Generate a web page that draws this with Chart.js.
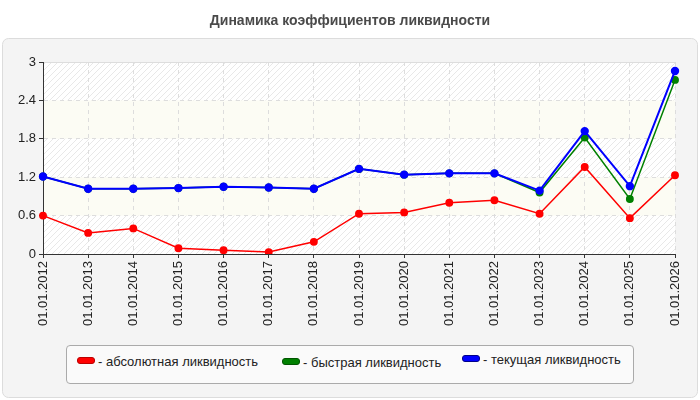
<!DOCTYPE html>
<html>
<head>
<meta charset="utf-8">
<script src="https://cdn.jsdelivr.net/npm/chart.js@4"></script>
<style>
    body { margin: 0; background: #fff; font-family: "Liberation Sans", Arial, sans-serif; }
    #wrap { position: relative; width: 700px; height: 400px; }
    #title {
        position: absolute; left: 0; top: 12px; width: 700px;
        text-align: center; font-weight: bold; font-size: 14px; color: #4a4a4a;
    }
    #legend {
        position: absolute; left: 66px; top: 345px; width: 566px; height: 37px;
        border: 1px solid #aaa; border-radius: 4px; background: #fafafa;
    }
    .item { position: absolute; font-size: 13px; color: #222; white-space: nowrap; }
    .swatch {
        display: inline-block; width: 16px; height: 5px; border-radius: 3px;
        margin-right: 3px; vertical-align: 2px;
    }
</style>
</head>
<body>
<div id="wrap">
    <canvas id="liquidityChart"></canvas>
    <div id="title">Динамика коэффициентов ликвидности</div>
    <div id="legend"></div>
</div>
<script>
const dates = ['01.01.2012', '01.01.2013', '01.01.2014', '01.01.2015', '01.01.2016',
    '01.01.2017', '01.01.2018', '01.01.2019', '01.01.2020', '01.01.2021',
    '01.01.2022', '01.01.2023', '01.01.2024', '01.01.2025', '01.01.2026'];
const absoluteRatio = [0.60, 0.33, 0.40, 0.09, 0.06, 0.03, 0.19, 0.63, 0.65, 0.80, 0.84, 0.63, 1.36, 0.56, 1.23];
const quickRatio = [1.21, 1.02, 1.02, 1.03, 1.05, 1.04, 1.02, 1.33, 1.24, 1.26, 1.26, 0.96, 1.82, 0.86, 2.72];
const currentRatio = [1.21, 1.02, 1.02, 1.03, 1.05, 1.04, 1.02, 1.33, 1.24, 1.26, 1.26, 0.99, 1.92, 1.06, 2.86];
const yTicks = [0, 0.6, 1.2, 1.8, 2.4, 3];
const seriesNames = ['- абсолютная ликвидность', '- быстрая ликвидность', '- текущая ликвидность'];

const FONT = '"Liberation Sans", Arial, sans-serif';

// Legend (html)
const legendPos = [[10, 8, '#ff0000', '#b00'], [215, 9, '#008000', '#050'], [395, 6, '#0000ff', '#008']];
seriesNames.forEach((name, i) => {
    const p = legendPos[i];
    const el = document.createElement('div');
    el.className = 'item';
    el.style.left = p[0] + 'px';
    el.style.top = p[1] + 'px';
    el.innerHTML = `<span class="swatch" style="background:${p[2]};border:1px solid ${p[3]}"></span>${name}`;
    document.getElementById('legend').appendChild(el);
});

// Hatched pattern for plot area
function makeHatch() {
    const c = document.createElement('canvas');
    c.width = 6; c.height = 6;
    const g = c.getContext('2d');
    g.fillStyle = '#ffffff';
    g.fillRect(0, 0, 6, 6);
    g.strokeStyle = '#e8e8e8';
    g.lineWidth = 1;
    g.beginPath();
    g.moveTo(0, 6); g.lineTo(6, 0);
    g.moveTo(-3, 3); g.lineTo(3, -3);
    g.moveTo(3, 9); g.lineTo(9, 3);
    g.stroke();
    return c;
}

const backgroundPlugin = {
    id: 'panelBackground',
    beforeDraw(chart) {
        const ctx = chart.ctx;
        const area = chart.chartArea;
        const y = chart.scales.y;
        ctx.save();
        // outer panel
        ctx.fillStyle = '#f4f4f4';
        ctx.strokeStyle = '#dcdcdc';
        ctx.lineWidth = 1;
        ctx.beginPath();
        ctx.roundRect(2.5, 38.5, 695, 359, 6);
        ctx.fill();
        ctx.stroke();
        // plot area
        ctx.fillStyle = ctx.createPattern(makeHatch(), 'repeat');
        ctx.fillRect(area.left, area.top, area.right - area.left, area.bottom - area.top);
        ctx.fillStyle = '#fcfcf4';
        [[0.6, 1.2], [1.8, 2.4]].forEach(b => {
            const top = y.getPixelForValue(b[1]);
            const bottom = y.getPixelForValue(b[0]);
            ctx.fillRect(area.left, top, area.right - area.left, bottom - top);
        });
        ctx.strokeStyle = '#dddddd';
        ctx.beginPath();
        ctx.moveTo(area.left, area.top + 0.5);
        ctx.lineTo(area.right, area.top + 0.5);
        ctx.stroke();
        ctx.restore();
    }
};

const ctx = document.getElementById('liquidityChart').getContext('2d');
window.liquidityChart = new Chart(ctx, {
    type: 'line',
    data: {
        labels: dates,
        datasets: [{
            label: seriesNames[0],
            data: absoluteRatio,
            borderColor: '#ff0000',
            backgroundColor: '#ff0000',
            borderWidth: 1.5,
            pointRadius: 3.2,
            order: 2
        }, {
            label: seriesNames[1],
            data: quickRatio,
            borderColor: '#008000',
            backgroundColor: '#008000',
            borderWidth: 1.5,
            pointRadius: 3.2,
            order: 1
        }, {
            label: seriesNames[2],
            data: currentRatio,
            borderColor: '#0000ff',
            backgroundColor: '#0000ff',
            borderWidth: 2,
            pointRadius: 3.2,
            order: 0
        }]
    },
    options: {
        responsive: true,
        maintainAspectRatio: false,
        animation: false,
        layout: {
            padding: { left: 0, top: 62, right: 25, bottom: 66 }
        },
        plugins: {
            legend: { display: false },
            title: { display: false },
            tooltip: { enabled: false }
        },
        scales: {
            x: {
                offset: false,
                afterFit: scale => { scale.height = 80; },
                grid: {
                    color: '#dddddd',
                    tickColor: '#333333',
                    tickLength: 4,
                    tickBorderDash: []
                },
                border: { display: true, color: '#333333', dash: [4, 4] },
                ticks: {
                    minRotation: 90,
                    maxRotation: 90,
                    autoSkip: false,
                    padding: 3,
                    color: '#222222',
                    font: { family: FONT, size: 13 }
                }
            },
            y: {
                min: 0,
                max: 3,
                afterFit: scale => { scale.width = 43; },
                afterBuildTicks: scale => {
                    scale.ticks = yTicks.map(v => ({ value: v }));
                },
                grid: {
                    color: '#dddddd',
                    tickColor: '#333333',
                    tickLength: 4,
                    tickBorderDash: []
                },
                border: { display: true, color: '#333333', dash: [4, 4] },
                ticks: {
                    padding: 3,
                    color: '#222222',
                    font: { family: FONT, size: 13 },
                    callback: v => String(+v.toFixed(1))
                }
            }
        }
    },
    plugins: [backgroundPlugin]
});
</script>
</body>
</html>
